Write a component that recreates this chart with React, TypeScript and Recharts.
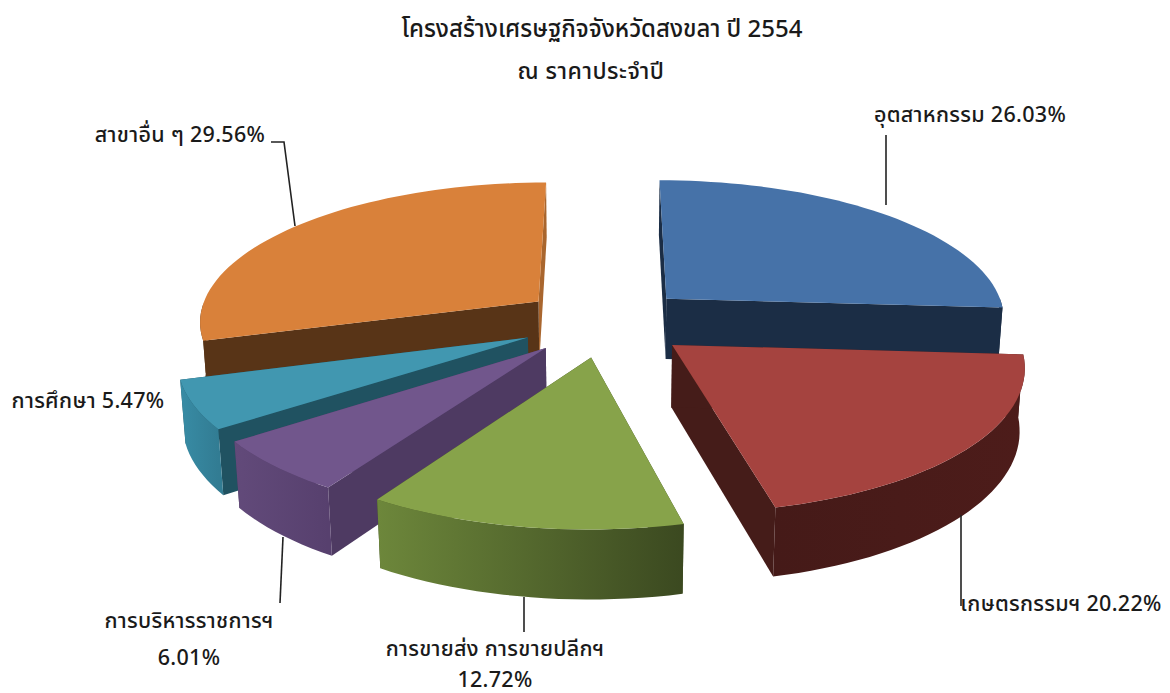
import { Pie, PieChart } from "recharts";

const WIDTH = 1170;
const HEIGHT = 693;
const FONT = "'Noto Sans', 'Noto Sans Thai', 'DejaVu Sans', sans-serif";

// slices are listed in the order they have to be painted, back to front
const names = ["อุตสาหกรรม", "สาขาอื่น ๆ", "การศึกษา", "การบริหารราชการฯ", "การขายส่ง การขายปลีกฯ", "เกษตรกรรมฯ"];
const shares = [26.03, 29.56, 5.47, 6.01, 12.72, 20.22];

const topColors = ["#4672a8", "#d9813a", "#4197b0", "#71568c", "#87a34a", "#a5433f"];
const sideColors = ["#1b2d45", "#583417", "#205261", "#4e3a62", "#3c4a20", "#451c19"];
const backSideColors = ["#1b2d45", "#a9662e", "#205261", "#4e3a62", "#3c4a20", "#451c19"];
const rimFrom = ["#1b2d45", "#583417", "#388ca5", "#624a7a", "#6d873b", "#451a18"];
const rimTo = ["#1b2d45", "#583417", "#327c93", "#57406e", "#3b4920", "#4d1c1a"];

// perspective of the tilted pie
const EXPLODE = 0.25;
const TILT = 0.409;
const PERSPECTIVE = 0.13;
const DEPTH = 62;
const DEPTH_SHRINK = 0.012;

const RAD = Math.PI / 180;

function Slice3D(props: any) {
	const { cx, cy, outerRadius: r, startAngle, endAngle, midAngle, index } = props;
	const offX = EXPLODE * Math.cos(midAngle * RAD);
	const offY = -EXPLODE * Math.sin(midAngle * RAD);

	const project = (X: number, Y: number, Z: number) => {
		const w = 1 - PERSPECTIVE * Y + DEPTH_SHRINK * Z;
		return [cx + (r * X) / w, cy + (r * TILT * Y + DEPTH * Z) / w];
	};
	const rimPoint = (angle: number, Z: number) =>
		project(offX + Math.cos(angle * RAD), offY - Math.sin(angle * RAD), Z);
	const apex = (Z: number) => project(offX, offY, Z);

	const steps = Math.max(8, Math.ceil(Math.abs(endAngle - startAngle) / 2));
	const angles = Array.from({ length: steps + 1 }, (_, i) => startAngle + ((endAngle - startAngle) * i) / steps);
	const toPath = (pts: number[][]) =>
		`M${pts.map((p) => `${p[0].toFixed(1)},${p[1].toFixed(1)}`).join("L")}Z`;

	const topRim = angles.map((a) => rimPoint(a, 0));
	// only the part of the rim that faces the viewer gets a wall
	const frontAngles = angles.filter((a) => Math.sin(a * RAD) <= 0.02);
	const wallTop = frontAngles.map((a) => rimPoint(a, 0));
	const wallBottom = frontAngles.map((a) => rimPoint(a, 1));
	const xs = topRim.map((p) => p[0]);
	const gradientId = `rim-${index}`;

	return (
		<g>
			<defs>
				<linearGradient
					id={gradientId}
					gradientUnits="userSpaceOnUse"
					x1={Math.min(...xs)}
					x2={Math.max(...xs)}
					y1={0}
					y2={0}
				>
					<stop offset="0%" stopColor={rimFrom[index]} />
					<stop offset="100%" stopColor={rimTo[index]} />
				</linearGradient>
			</defs>
			<path
				d={toPath([apex(0), rimPoint(startAngle, 0), rimPoint(startAngle, 1), apex(1)])}
				fill={backSideColors[index]}
			/>
			<path
				d={toPath([apex(0), rimPoint(endAngle, 0), rimPoint(endAngle, 1), apex(1)])}
				fill={sideColors[index]}
			/>
			{frontAngles.length > 1 && (
				<path d={toPath([...wallTop, ...[...wallBottom].reverse()])} fill={`url(#${gradientId})`} />
			)}
			<path d={toPath([apex(0), ...topRim])} fill={topColors[index]} />
		</g>
	);
}

// where each callout sits, same order as names
const callouts = [
	{ lines: ["อุตสาหกรรม 26.03%"], x: 970, y: 122, gap: 0, leader: "886,135 886,205" },
	{ lines: ["สาขาอื่น ๆ 29.56%"], x: 180, y: 142, gap: 0, leader: "271,142 284,142 295,226" },
	{ lines: ["การศึกษา 5.47%"], x: 88, y: 408, gap: 0, leader: "" },
	{ lines: ["การบริหารราชการฯ", "6.01%"], x: 189, y: 628, gap: 37, leader: "283,537 280,603" },
	{ lines: ["การขายส่ง การขายปลีกฯ", "12.72%"], x: 495, y: 656, gap: 31, leader: "524,597 524,632" },
	{ lines: ["เกษตรกรรมฯ 20.22%"], x: 1061, y: 611, gap: 0, leader: "961,515 961,606" },
];

function renderCallout({ index }: any) {
	const c = callouts[index];
	return (
		<g key={index}>
			{c.leader && <polyline points={c.leader} fill="none" stroke="#222" strokeWidth={1.6} />}
			{c.lines.map((line, i) => (
				<text
					key={line}
					x={c.x}
					y={c.y + i * c.gap}
					textAnchor="middle"
					fontFamily={FONT}
					fontSize={21.5}
					fontWeight={500}
					letterSpacing={0.3}
					fill="#1a1a1a"
				>
					{line}
				</text>
			))}
		</g>
	);
}

const tableData = names.map((name, i) => ({ name, value: shares[i] }));

export default function App() {
	return (
		<div style={{ position: "absolute", left: 0, top: 0, background: "#fff" }}>
			<PieChart width={WIDTH} height={HEIGHT} margin={{ top: 0, right: 0, bottom: 0, left: 0 }}>
				<text x={602} y={37} textAnchor="middle" fontFamily={FONT} fontSize={24} fontWeight={500} fill="#1a1a1a">
					โครงสร้างเศรษฐกิจจังหวัดสงขลา ปี 2554
				</text>
				<text x={591} y={79} textAnchor="middle" fontFamily={FONT} fontSize={23} fontWeight={500} letterSpacing={0.5} fill="#1a1a1a">
					ณ ราคาประจำปี
				</text>
				<Pie
					data={tableData}
					dataKey="value"
					nameKey="name"
					cx={605.5}
					cy={322}
					outerRadius={341}
					startAngle={-3.7}
					endAngle={356.3}
					stroke="none"
					shape={Slice3D}
					label={renderCallout}
					labelLine={false}
					isAnimationActive={false}
				/>
			</PieChart>
		</div>
	);
}
